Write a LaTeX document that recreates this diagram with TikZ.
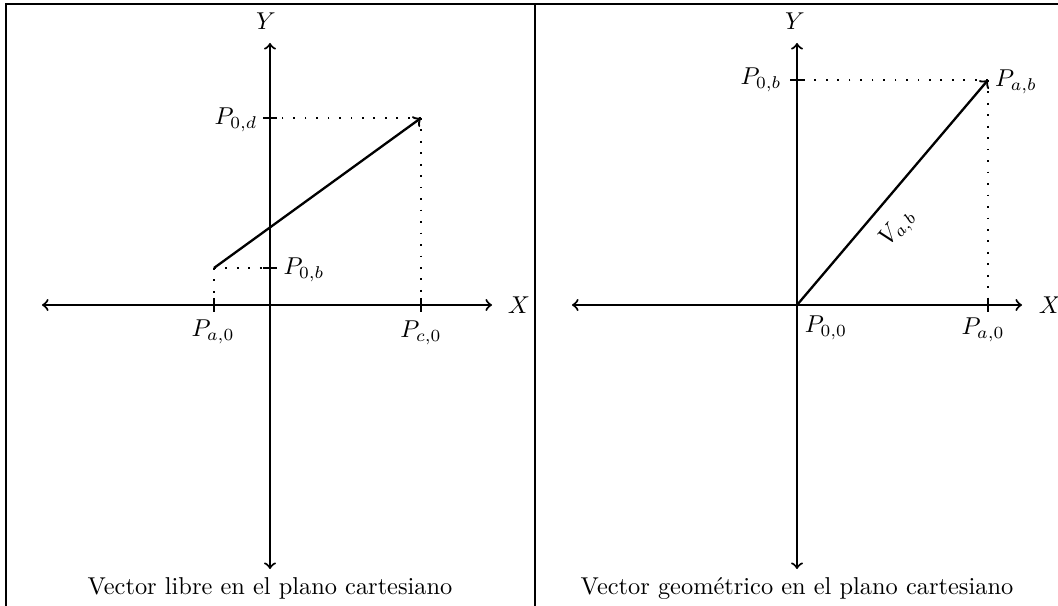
\documentclass[tikz,border=0pt]{standalone}
\usetikzlibrary{calc}
\begin{document}
\begin{tikzpicture}[x=0.41pt,y=-0.41pt,
  axis/.style={line width=0.85pt,->},
  axisup/.style={line width=1.05pt},
  vec/.style={line width=0.95pt,->},
  tick/.style={line width=0.95pt},
  guide/.style={line width=0.7pt,loosely dotted},
  frameline/.style={line width=0.65pt},
  lbl/.style={inner sep=1pt}]
\useasboundingbox (0,0) rectangle (1058,606);
\clip (0,0) rectangle (1058,606);
% frame
\draw[frameline] (6,4) rectangle (1064,640);
\draw[frameline] (535,4) -- (535,640);

% ---------- left panel ----------
\coordinate (LO) at (270,305);
\coordinate (LXl) at (42,305);
\coordinate (LXr) at (492,305);
\coordinate (LYt) at (270,43);
\coordinate (LYb) at (270,569);
\draw[axis] (LO) -- (LXr);
\draw[axis] (LO) -- (LXl);
\draw[axis] (LO) -- (LYb);
\draw[axis] (LO) -- (LYt);
\node[lbl] (LX) at (519,305) {$X$};
\node[lbl] (LY) at (266,21) {$Y$};

\coordinate (A) at (214,268);
\coordinate (C) at (421,118);
\coordinate (Ta) at (214,305);
\coordinate (Tc) at (421,305);
\coordinate (Tb) at (270,268);
\coordinate (Td) at (270,118);
\draw[axisup] (LO) -- (Td);
\draw[tick] ($(Ta)+(0,-7)$) -- ($(Ta)+(0,7)$);
\draw[tick] ($(Tc)+(0,-7)$) -- ($(Tc)+(0,7)$);
\draw[tick] ($(Tb)+(-7,0)$) -- ($(Tb)+(7,0)$);
\draw[tick] ($(Td)+(-7,0)$) -- ($(Td)+(7,0)$);
\draw[guide] (A) -- (Ta);
\draw[guide] (A) -- (Tb);
\draw[guide] (C) -- (Tc);
\draw[guide] (C) -- (Td);
\draw[vec] (A) -- (C);
\node[lbl] (LPa) at (213,332) {$P_{a,0}$};
\node[lbl] (LPc) at (421,333) {$P_{c,0}$};
\node[lbl] (LPb) at (304,270) {$P_{0,b}$};
\node[lbl] (LPd) at (236,120) {$P_{0,d}$};
\node[lbl] (LCap) at (270,588) {Vector libre en el plano cartesiano};

% ---------- right panel ----------
\coordinate (RO) at (797,305);
\coordinate (RXl) at (572,305);
\coordinate (RXr) at (1022,305);
\coordinate (RYt) at (797,43);
\coordinate (RYb) at (797,569);
\draw[axis] (RO) -- (RXr);
\draw[axis] (RO) -- (RXl);
\draw[axis] (RO) -- (RYb);
\draw[axis] (RO) -- (RYt);
\node[lbl] (RX) at (1050,305) {$X$};
\node[lbl] (RY) at (795,21) {$Y$};

\coordinate (B) at (988,80);
\coordinate (Rta) at (988,305);
\coordinate (Rtb) at (797,80);
\draw[axisup] (RO) -- (Rtb);
\draw[tick] ($(Rta)+(0,-7)$) -- ($(Rta)+(0,7)$);
\draw[tick] ($(Rtb)+(-7,0)$) -- ($(Rtb)+(7,0)$);
\draw[guide] (B) -- (Rta);
\draw[guide] (B) -- (Rtb);
\draw[vec] (RO) -- node[lbl,sloped,below=5pt,pos=0.42] (V) {$V_{a,b}$} (B);
\node[lbl] (RPab) at (1016,82) {$P_{a,b}$};
\node[lbl] (RPb) at (761,80) {$P_{0,b}$};
\node[lbl] (RP0) at (826,328) {$P_{0,0}$};
\node[lbl] (RPa) at (983,330) {$P_{a,0}$};
\node[lbl] (RCap) at (797,588) {Vector geom\'etrico en el plano cartesiano};
\end{tikzpicture}
\end{document}
